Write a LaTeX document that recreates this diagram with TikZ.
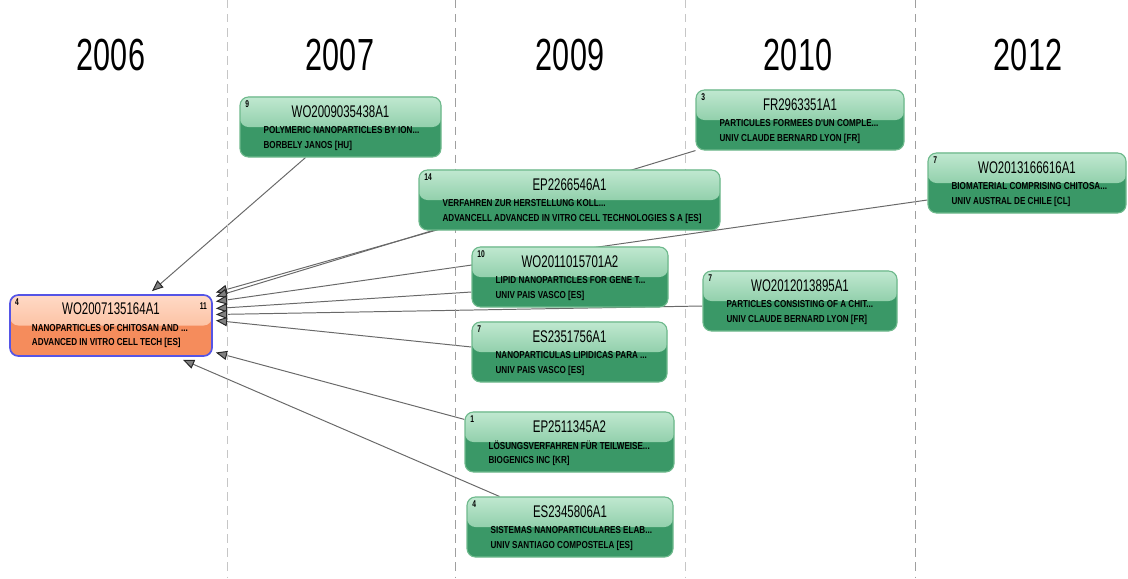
\documentclass[tikz,border=0pt]{standalone}
\usepackage{fontspec}
\setmainfont{Liberation Sans}
\newfontfamily\narrowfont[FakeStretch=0.68]{Liberation Sans}
\newfontfamily\infofont[FakeStretch=0.8]{Liberation Sans}
\usetikzlibrary{arrows.meta,calc,backgrounds}
\definecolor{gtop}{RGB}{192,232,208}
\definecolor{gmid}{RGB}{100,184,136}
\definecolor{gbot}{RGB}{58,152,103}
\definecolor{gborder}{RGB}{110,185,140}
\definecolor{otop}{RGB}{255,218,198}
\definecolor{omid}{RGB}{250,172,132}
\definecolor{obot}{RGB}{245,140,92}
\definecolor{oborder}{RGB}{85,85,230}
\definecolor{cite}{RGB}{105,105,105}

% one patent box: name, centre, width (px), count, number, title, owner
\newcommand{\patent}[7]{%
  \node[patbox, minimum width=#3*0.025cm] (#1) at (#2) {};
  \node[cnt, anchor=north west] (#1-cnt) at ([xshift=4pt,yshift=-3pt]#1.north west) {#4};
  \node[pid] (#1-id) at ([yshift=-10.5pt]#1.north) {#5};
  \node[pline, anchor=west] (#1-title) at ([xshift=17pt,yshift=-23.8pt]#1.north west) {#6};
  \node[pline, anchor=west] (#1-owner) at ([xshift=17pt,yshift=-35pt]#1.north west) {#7};
}

\begin{document}
\begin{tikzpicture}[x=0.025cm,y=-0.025cm,
    patbox/.style={draw=gborder, line width=0.8pt, rounded corners=6pt, fill=gbot,
      minimum height=1.5cm, inner sep=0pt,
      path picture={\shade[top color=gtop,bottom color=gmid]
        (path picture bounding box.north west) rectangle (path picture bounding box.east);}},
    rootbox/.style={draw=oborder, line width=1.2pt, rounded corners=6pt, fill=obot,
      minimum width=5.05cm, minimum height=1.525cm, inner sep=0pt,
      path picture={\shade[top color=otop,bottom color=omid]
        (path picture bounding box.north west) rectangle (path picture bounding box.east);}},
    cnt/.style={inner sep=0pt, font=\narrowfont\bfseries\fontsize{7}{7}\selectfont},
    pid/.style={inner sep=0pt, font=\narrowfont\fontsize{12}{12}\selectfont},
    pline/.style={inner sep=0pt, font=\infofont\bfseries\fontsize{7.2}{8}\selectfont},
    year/.style={inner sep=0pt, font=\narrowfont\fontsize{32}{32}\selectfont},
    citeline/.style={draw=cite, line width=0.7pt,
      -{Triangle[length=8pt,width=6.5pt,color=black!85,fill=black!50]}},
  ]
  \useasboundingbox (0,0) rectangle (1128,578);

  % year columns
  \foreach \x/\c in {227/gray!45,455/gray!75,685/gray!45,915/gray!75}
    \draw[\c, line width=0.6pt, dash pattern=on 6pt off 4pt] (\x,0) -- (\x,578);
  \foreach \x/\y in {111/2006,340/2007,570/2009,798/2010,1028/2012}
    \node[year] (y\y) at (\x,55) {\y};

  % cited patent
  \node[rootbox] (root) at (111,325.5) {};
  \node[cnt, anchor=north west] (root-cnt) at ([xshift=4pt,yshift=-3pt]root.north west) {4};
  \node[cnt, anchor=north east] (root-cited) at ([xshift=-4pt,yshift=-6pt]root.north east) {11};
  \node[pid] (root-id) at ([yshift=-10.5pt]root.north) {WO2007135164A1};
  \node[pline, anchor=west] (root-title) at ([xshift=16pt,yshift=-23.8pt]root.north west) {NANOPARTICLES OF CHITOSAN AND ...};
  \node[pline, anchor=west] (root-owner) at ([xshift=16pt,yshift=-35pt]root.north west) {ADVANCED IN VITRO CELL TECH [ES]};

  % citing patents
  \patent{wo09}{340.5,127}{201}{9}{WO2009035438A1}{POLYMERIC NANOPARTICLES BY ION...}{BORBELY JANOS [HU]}
  \patent{ep26}{569.5,200}{301}{14}{EP2266546A1}{VERFAHREN ZUR HERSTELLUNG KOLL...}{ADVANCELL ADVANCED IN VITRO CELL TECHNOLOGIES S A [ES]}
  \patent{wo11}{570,277}{196}{10}{WO2011015701A2}{LIPID NANOPARTICLES FOR GENE T...}{UNIV PAIS VASCO [ES]}
  \patent{es51}{569.5,352}{195}{7}{ES2351756A1}{NANOPARTICULAS LIPIDICAS PARA ...}{UNIV PAIS VASCO [ES]}
  \patent{ep25}{569.5,442}{209}{1}{EP2511345A2}{LÖSUNGSVERFAHREN FÜR TEILWEISE...}{BIOGENICS INC [KR]}
  \patent{es45}{570,527}{206}{4}{ES2345806A1}{SISTEMAS NANOPARTICULARES ELAB...}{UNIV SANTIAGO COMPOSTELA [ES]}
  \patent{fr29}{800,120}{208}{3}{FR2963351A1}{PARTICULES FORMEES D'UN COMPLE...}{UNIV CLAUDE BERNARD LYON [FR]}
  \patent{wo12}{800,301}{194}{7}{WO2012013895A1}{PARTICLES CONSISTING OF A CHIT...}{UNIV CLAUDE BERNARD LYON [FR]}
  \patent{wo13}{1027,183}{198}{7}{WO2013166616A1}{BIOMATERIAL COMPRISING CHITOSA...}{UNIV AUSTRAL DE CHILE [CL]}

  % citations
  \begin{scope}[on background layer]
    \draw[citeline] ($(wo09.south)+(-35,0)$) -- ($(root.north)+(41,-3)$);
    \draw[citeline] ($(ep26.south west)+(20,-1)$) -- ($(root.east)+(3,-33)$);
    \draw[citeline] (fr29.south west) -- ($(root.east)+(3,-29)$);
    \draw[citeline] ($(wo13.west)+(0,17)$) -- ($(root.east)+(3,-24)$);
    \draw[citeline] ($(wo11.west)+(0,15)$) -- ($(root.east)+(3,-17)$);
    \draw[citeline] ($(wo12.west)+(0,5)$) -- ($(root.east)+(3,-11)$);
    \draw[citeline] ($(es51.west)+(0,-5)$) -- ($(root.east)+(3,-5)$);
    \draw[citeline] ($(ep25.north west)+(0,8)$) -- ($(root.east)+(3,27)$);
    \draw[citeline] ($(es45.north west)+(33,0)$) -- ($(root.south)+(72,3)$);
  \end{scope}
\end{tikzpicture}
\end{document}
